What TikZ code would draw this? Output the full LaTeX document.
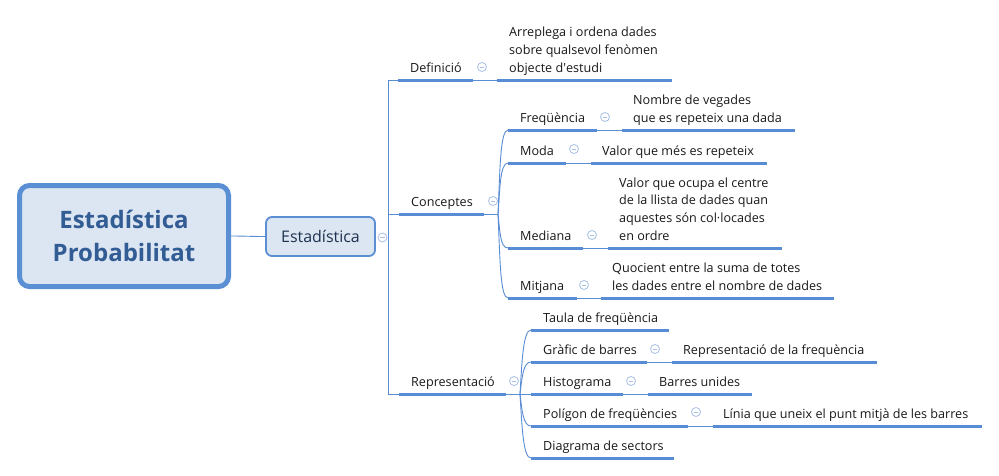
\documentclass[tikz,border=0pt]{standalone}
\usepackage{fontspec}
\setmainfont{Open Sans}
\definecolor{lineblue}{RGB}{88,140,212}
\definecolor{boxblue}{RGB}{91,143,212}
\definecolor{boxfill}{RGB}{220,230,242}
\definecolor{titleblue}{RGB}{50,92,148}
\definecolor{esttext}{RGB}{30,50,80}
\definecolor{circblue}{RGB}{168,191,230}
\definecolor{txt}{RGB}{25,25,25}
\begin{document}
\begin{tikzpicture}[x=1pt,y=-1pt,
  lbl/.style={anchor=base west, inner sep=0pt, font=\fontsize{12.6}{17.6}\selectfont, text=txt},
  ul/.style={draw=lineblue, line width=3pt},
  cn/.style={draw=lineblue, line width=0.9pt},
  collapse/.style={circle, draw=circblue, fill=white, line width=0.8pt, minimum size=9pt, inner sep=0pt,
    path picture={\draw[circblue, line width=0.8pt] ([xshift=-2.3pt]path picture bounding box.center) -- ([xshift=2.3pt]path picture bounding box.center);}},
  mainbox/.style={draw=boxblue, line width=5pt, fill=boxfill, rounded corners=10pt, minimum width=209pt, minimum height=101pt, align=center, text=titleblue, font=\bfseries\fontsize{24}{33}\selectfont},
  estbox/.style={draw=boxblue, line width=1.8pt, fill=boxfill, rounded corners=6pt, minimum width=109pt, minimum height=39pt, text=esttext, font=\fontsize{16}{19}\selectfont}
]
\useasboundingbox[fill=white] (0,0) rectangle (999,475);

% central topic
\node[mainbox] (root) at (124,236) {Estadística\\Probabilitat};
\node[estbox] (est) at (320.5,236.5) {Estadística};
\draw[cn] (root.east) to[out=0,in=180] (est.west);
\node[collapse] (estc) at (382.5,237.5) {};

% trunk
\coordinate (tTop) at (388,80);
\coordinate (tMid) at (388,214);
\coordinate (tBot) at (388,394);
\draw[cn] (tTop) -- (tBot);

% Definició
\coordinate (def0) at (398,80);
\draw[cn] (tTop) -- (def0);
\draw[ul] (def0) -- (473,80);
\draw[cn] (473,80) -- (497,80);
\draw[ul] (497,80) -- (672,80);
\node[lbl] (def) at (410,72) {Definició};
\node[collapse] (defc) at (482,67) {};
\node[lbl] (defd) at (509,72) {\begin{tabular}[b]{@{}l@{}}Arreplega i ordena dades\\sobre qualsevol fenòmen\\objecte d\textquotesingle estudi\end{tabular}};

% Conceptes
\coordinate (con0) at (399,214);
\coordinate (J1) at (498,214);
\draw[cn] (tMid) -- (con0);
\draw[ul] (con0) -- (484,214);
\draw[cn] (484,214) -- (J1);
\node[lbl] (con) at (411,206) {Conceptes};
\node[collapse] (conc) at (493,201) {};

% Freqüència
\coordinate (fre0) at (508,130);
\draw[cn] (J1) .. controls +(2,-42) and +(-8,0) .. (fre0);
\draw[ul] (fre0) -- (597,130);
\draw[cn] (597,130) -- (622,130);
\draw[ul] (622,130) -- (795,130);
\node[lbl] (fre) at (520,122) {Freqüència};
\node[collapse] (frec) at (605,117) {};
\node[lbl] (fred) at (633,122) {\begin{tabular}[b]{@{}l@{}}Nombre de vegades\\que es repeteix una dada\end{tabular}};

% Moda
\coordinate (mod0) at (508,163);
\draw[cn] (J1) .. controls +(2,-25) and +(-8,0) .. (mod0);
\draw[ul] (mod0) -- (566,163);
\draw[cn] (566,163) -- (591,163);
\draw[ul] (591,163) -- (767,163);
\node[lbl] (mod) at (520,155) {Moda};
\node[collapse] (modc) at (574,149) {};
\node[lbl] (modd) at (602,155) {Valor que més es repeteix};

% Mediana
\coordinate (med0) at (508,248);
\draw[cn] (J1) .. controls +(2,17) and +(-8,0) .. (med0);
\draw[ul] (med0) -- (583,248);
\draw[cn] (583,248) -- (608,248);
\draw[ul] (608,248) -- (782,248);
\node[lbl] (med) at (520,240) {Mediana};
\node[collapse] (medc) at (592,235) {};
\node[lbl] (medd) at (619,240) {\begin{tabular}[b]{@{}l@{}}Valor que ocupa el centre\\de la llista de dades quan\\aquestes són col·locades\\en ordre\end{tabular}};

% Mitjana
\coordinate (mit0) at (508,298);
\draw[cn] (J1) .. controls +(2,42) and +(-8,0) .. (mit0);
\draw[ul] (mit0) -- (577,298);
\draw[cn] (577,298) -- (601,298);
\draw[ul] (601,298) -- (834,298);
\node[lbl] (mit) at (520,290) {Mitjana};
\node[collapse] (mitc) at (584,285) {};
\node[lbl] (mitd) at (612,290) {\begin{tabular}[b]{@{}l@{}}Quocient entre la suma de totes\\les dades entre el nombre de dades\end{tabular}};

% Representació
\coordinate (rep0) at (399,394);
\coordinate (J2) at (520,394);
\draw[cn] (tBot) -- (rep0);
\draw[ul] (rep0) -- (506,394);
\draw[cn] (506,394) -- (J2);
\node[lbl] (rep) at (411,386) {Representació};
\node[collapse] (repc) at (514,381) {};

% Taula
\coordinate (tau0) at (531,330);
\draw[cn] (J2) .. controls +(2,-32) and +(-8,0) .. (tau0);
\draw[ul] (tau0) -- (669,330);
\node[lbl] (tau) at (543,322) {Taula de freqüència};

% Gràfic
\coordinate (gra0) at (531,362);
\draw[cn] (J2) .. controls +(2,-16) and +(-8,0) .. (gra0);
\draw[ul] (gra0) -- (647,362);
\draw[cn] (647,362) -- (672,362);
\draw[ul] (672,362) -- (877,362);
\node[lbl] (gra) at (543,354) {Gràfic de barres};
\node[collapse] (grac) at (655,349) {};
\node[lbl] (grad) at (683,354) {Representació de la frequència};

% Histograma
\coordinate (his0) at (531,394);
\draw[cn] (J2) -- (his0);
\draw[ul] (his0) -- (623,394);
\draw[cn] (623,394) -- (648,394);
\draw[ul] (648,394) -- (752,394);
\node[lbl] (his) at (543,386) {Histograma};
\node[collapse] (hisc) at (631,381) {};
\node[lbl] (hisd) at (659,386) {Barres unides};

% Polígon
\coordinate (pol0) at (531,426);
\draw[cn] (J2) .. controls +(2,16) and +(-8,0) .. (pol0);
\draw[ul] (pol0) -- (688,426);
\draw[cn] (688,426) -- (713,426);
\draw[ul] (713,426) -- (982,426);
\node[lbl] (pol) at (543,418) {Polígon de freqüències};
\node[collapse] (polc) at (696,412) {};
\node[lbl] (pold) at (723,418) {Línia que uneix el punt mitjà de les barres};

% Diagrama
\coordinate (dia0) at (531,458);
\draw[cn] (J2) .. controls +(2,32) and +(-8,0) .. (dia0);
\draw[ul] (dia0) -- (674,458);
\node[lbl] (dia) at (543,450) {Diagrama de sectors};
\end{tikzpicture}
\end{document}
